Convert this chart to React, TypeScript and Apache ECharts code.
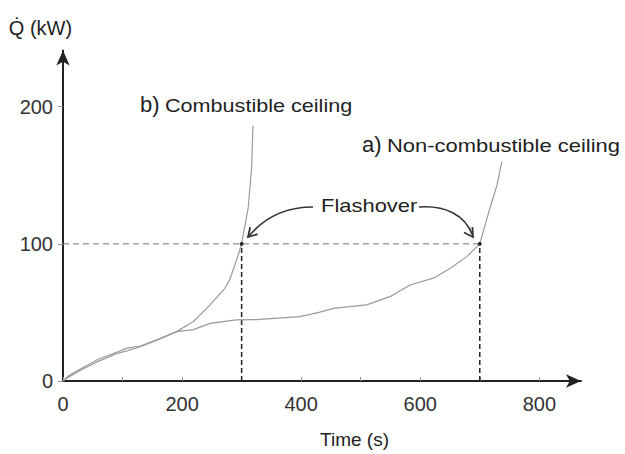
import React, { useEffect, useRef } from "react";
import * as echarts from "echarts";

// Curve a) Non-combustible ceiling
const timeA = [0, 10, 30, 60, 90, 107, 130, 157, 191, 219, 247, 291, 325, 398, 430, 454, 510, 549, 583, 622, 650, 678, 700, 717, 729, 737];
const qA = [0, 4, 9, 16, 21, 24, 25.5, 30, 36, 37.5, 42, 44.6, 44.8, 47, 50, 53, 55.5, 61.5, 70, 75, 82, 90.7, 100, 126, 143, 160];
// Curve b) Combustible ceiling
const timeB = [0, 10, 30, 60, 90, 107, 130, 157, 191, 219, 247, 272, 280, 289, 295, 300, 305, 311, 317, 319];
const qB = [0, 3, 8, 14.5, 20, 22, 25, 29.5, 36, 43.4, 55.5, 67.6, 74, 85, 93, 100, 112, 126, 157, 186];
// Flashover points
const flashTimes = [300, 700];
const flashQ = 100;
// Ticks
const xLabelValues = [0, 200, 400, 600, 800];
const xTickValues = [0, 100, 200, 300, 400, 500, 600, 700, 800];
const yLabelValues = [0, 100, 200];

const FONT = "'Liberation Sans', Arial, Helvetica, sans-serif";

export default function App() {
  const ref = useRef<HTMLDivElement>(null);
  useEffect(() => {
    if (!ref.current) return;
    const chart = echarts.init(ref.current, null, { renderer: "svg" });
    const dataA = timeA.map((t, i) => [t, qA[i]]);
    const dataB = timeB.map((t, i) => [t, qB[i]]);
    const maxFlash = Math.max(...flashTimes);
    const text = (x: number, y: number, t: string, size: number, sx = 1) => ({
      type: "text",
      x,
      y,
      scaleX: sx,
      style: { text: t, fontSize: size, fontFamily: FONT, fill: "#222", align: "left", verticalAlign: "middle" },
    });
    chart.setOption({
      animation: false,
      backgroundColor: "#fff",
      grid: { left: 63, right: 44, top: 50.5, bottom: 71, containLabel: false },
      xAxis: {
        type: "value",
        min: 0,
        max: 870,
        name: "Time (s)",
        nameLocation: "middle",
        nameGap: 49,
        nameTextStyle: { fontSize: 19, fontFamily: FONT, color: "#222", padding: [0, 0, 0, 65] },
        axisLine: { show: true, lineStyle: { color: "#222", width: 2 }, symbol: ["none", "arrow"], symbolSize: [10, 15] },
        axisTick: { show: true, inside: true, length: 4, lineStyle: { color: "#999" }, customValues: xTickValues },
        axisLabel: { fontSize: 20, fontFamily: FONT, color: "#333", margin: 13, customValues: xLabelValues },
        splitLine: { show: false },
      },
      yAxis: {
        type: "value",
        min: 0,
        max: 241,
        name: "Q\u0307 (kW)",
        nameLocation: "end",
        nameGap: 13,
        nameTextStyle: { fontSize: 20, fontFamily: FONT, color: "#222", align: "center", padding: [0, 45, 0, 0] },
        axisLine: { show: true, lineStyle: { color: "#222", width: 2 }, symbol: ["none", "arrow"], symbolSize: [10, 15] },
        axisTick: { show: true, length: 5, lineStyle: { color: "#999" }, customValues: yLabelValues },
        axisLabel: { fontSize: 20, fontFamily: FONT, color: "#333", margin: 10, customValues: yLabelValues },
        splitLine: { show: false },
      },
      series: [
        {
          type: "line",
          name: "a) Non-combustible ceiling",
          data: dataA,
          showSymbol: false,
          lineStyle: { color: "#9a9a9a", width: 1.2 },
          z: 3,
        },
        {
          type: "line",
          name: "b) Combustible ceiling",
          data: dataB,
          showSymbol: false,
          lineStyle: { color: "#9a9a9a", width: 1.2 },
          z: 3,
        },
        {
          type: "line",
          name: "flashover level",
          data: [[0, flashQ], [maxFlash, flashQ]],
          showSymbol: false,
          lineStyle: { color: "#777", width: 1, type: [6, 4] },
          z: 2,
        },
        ...flashTimes.map((t) => ({
          type: "line",
          name: "flashover time " + t,
          data: [[t, 0], [t, flashQ]],
          showSymbol: false,
          lineStyle: { color: "#222", width: 1.5, type: [5, 3] },
          z: 2,
        })),
        {
          type: "scatter",
          name: "flashover points",
          data: flashTimes.map((t) => [t, flashQ]),
          symbolSize: 4,
          itemStyle: { color: "#000" },
          z: 4,
        },
      ],
      graphic: [
        text(140, 104.3, "b)", 22),
        text(165, 105.7, "Combustible ceiling", 18, 1.2),
        text(362, 144.3, "a)", 22),
        text(387, 145.7, "Non-combustible ceiling", 18, 1.22),
        text(321, 205.7, "Flashover", 18, 1.22),
        {
          type: "bezierCurve",
          shape: { x1: 313, y1: 207, cpx1: 285, cpy1: 207, cpx2: 264, cpy2: 218, x2: 249, y2: 236 },
          style: { stroke: "#333", lineWidth: 1.6, fill: "none" },
        },
        {
          type: "polyline",
          shape: { points: [[250.2, 227.3], [248, 237], [257.6, 234.1]] },
          style: { stroke: "#333", lineWidth: 1.8, fill: "none" },
        },
        {
          type: "bezierCurve",
          shape: { x1: 419, y1: 207, cpx1: 445, cpy1: 205, cpx2: 465, cpy2: 215, x2: 472.5, y2: 235 },
          style: { stroke: "#333", lineWidth: 1.6, fill: "none" },
        },
        {
          type: "polyline",
          shape: { points: [[464, 232.5], [473, 237], [472.4, 227]] },
          style: { stroke: "#333", lineWidth: 1.8, fill: "none" },
        },
      ],
    });
    return () => chart.dispose();
  }, []);
  return <div ref={ref} style={{ position: "fixed", left: 0, top: 0, width: 625, height: 454 }} />;
}
